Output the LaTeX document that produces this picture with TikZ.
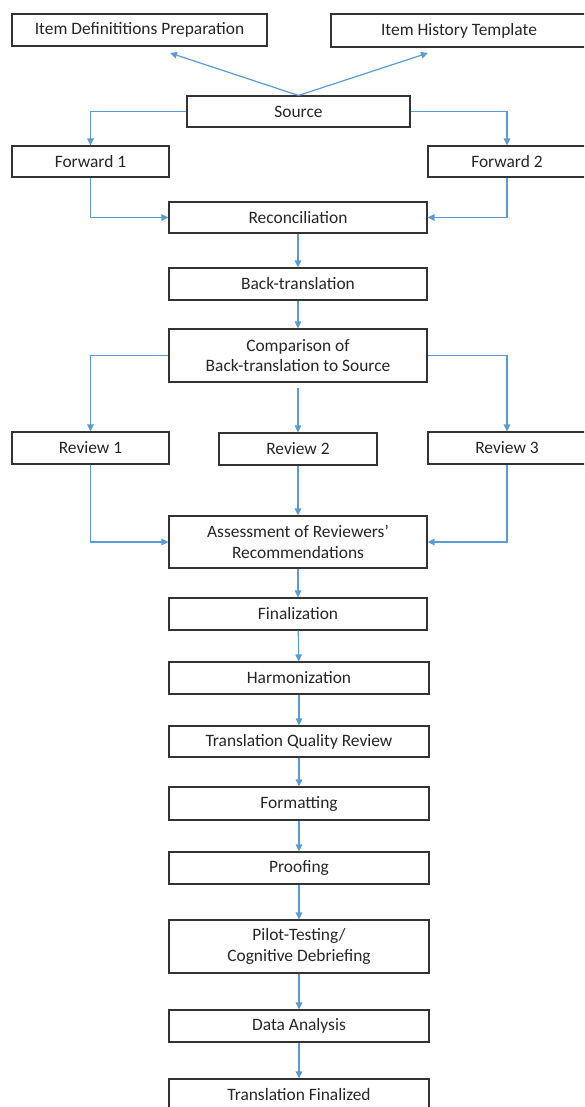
\documentclass[tikz,border=0pt]{standalone}
\usepackage{fontspec}
\setmainfont{Carlito}
\usepackage{tikz}
\usetikzlibrary{arrows.meta}

\definecolor{linkblue}{RGB}{91,155,213}

\begin{document}
\begin{tikzpicture}[x=1pt,y=-1pt,
    stage/.style={draw=black!80,line width=1.1pt,minimum height=32,inner sep=0,
        align=center,text=black!85,font=\fontsize{17.4}{20.5}\selectfont},
    link/.style={draw=linkblue,line width=1.2pt,-{Triangle[length=7pt,width=6.5pt]}}]
    \useasboundingbox (0,0) rectangle (584,1107);
    \clip (0,0) rectangle (584,1107);
    % top row
    \node[stage,minimum width=255] (itemdef) at (139.5,30) {Item Definititions Preparation};
    \node[stage,minimum width=256,minimum height=33] (itemhist) at (459,30.5) {Item History Template};
    \coordinate (defend) at (170,53);
    \coordinate (histend) at (428,53);
    \node[stage,minimum width=223,minimum height=31] (source) at (298.5,111.5) {Source};
    \node[stage,minimum width=157,minimum height=31] (fwdone) at (90.5,161.5) {Forward 1};
    \node[stage,minimum width=158,minimum height=31] (fwdtwo) at (507,161.5) {Forward 2};
    \node[stage,minimum width=258,minimum height=31] (recon) at (298,217.5) {Reconciliation};
    \node[stage,minimum width=258] (back) at (298,284) {Back-translation};
    \node[stage,minimum width=258,minimum height=53] (comp) at (298,355.5) {Comparison of\\Back-translation to Source};
    % reviewers
    \node[stage,minimum width=157] (revone) at (90.5,448) {Review 1};
    \node[stage,minimum width=158] (revtwo) at (298,449) {Review 2};
    \node[stage,minimum width=158] (revthree) at (507,448) {Review 3};
    \node[stage,minimum width=258,minimum height=52] (assess) at (298,542) {Assessment of Reviewers'\\Recommendations};
    % final chain
    \node[stage,minimum width=258] (final) at (298,614) {Finalization};
    \node[stage,minimum width=260] (harm) at (299,678) {Harmonization};
    \node[stage,minimum width=260,minimum height=31] (tqr) at (299,741.5) {Translation Quality Review};
    \node[stage,minimum width=260,minimum height=33] (fmt) at (299,803.5) {Formatting};
    \node[stage,minimum width=260] (proof) at (299,868) {Proofing};
    \node[stage,minimum width=260,minimum height=53] (pilot) at (299,946.5) {Pilot-Testing/\\Cognitive Debriefing};
    \node[stage,minimum width=260] (data) at (299,1026) {Data Analysis};
    \node[stage,minimum width=260] (done) at (299,1095) {Translation Finalized};

    \draw[link] (source.north) -- (defend);
    \draw[link] (source.north) -- (histend);
    \draw[link] (source.west) -| (fwdone.north);
    \draw[link] (source.east) -| (fwdtwo.north);
    \draw[link] (fwdone.south) |- (recon.west);
    \draw[link] (fwdtwo.south) |- (recon.east);
    \draw[link] (recon) -- (back);
    \draw[link] (back) -- (comp);
    \draw[link] (comp.west) -| (revone.north);
    \draw[link,shorten <=5pt] (comp.south) -- (revtwo.north);
    \draw[link] (comp.east) -| (revthree.north);
    \draw[link] (revone.south) |- (assess.west);
    \draw[link] (revtwo.south) -- (assess.north);
    \draw[link] (revthree.south) |- (assess.east);
    \draw[link] (assess) -- (final);
    \draw[link] (final) -- (harm);
    \draw[link] (harm) -- (tqr);
    \draw[link] (tqr) -- (fmt);
    \draw[link] (fmt) -- (proof);
    \draw[link] (proof) -- (pilot);
    \draw[link] (pilot) -- (data);
    \draw[link] (data) -- (done);
\end{tikzpicture}
\end{document}
